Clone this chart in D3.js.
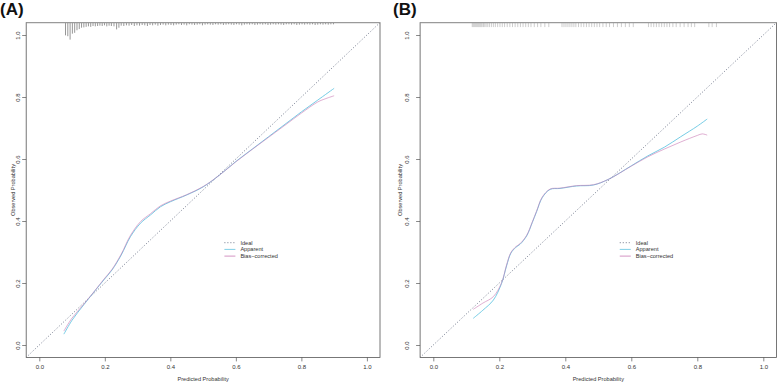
<!DOCTYPE html>
<html><head><meta charset="utf-8">
<script src="https://cdn.jsdelivr.net/npm/d3@7"></script>
<style>body{margin:0;background:#fff}svg{display:block}text{font-family:"Liberation Sans",Arial,sans-serif}</style>
</head><body><svg id="c" width="777" height="386"></svg>
<script>
// ---------- data ----------
const ticks = [0.0, 0.2, 0.4, 0.6, 0.8, 1.0];
const tickLabels = ["0.0", "0.2", "0.4", "0.6", "0.8", "1.0"];
const legendLabels = ["Ideal", "Apparent", "Bias\u2212corrected"];

// Panel A
const appA_x = [0.075,0.10,0.136,0.17,0.197,0.222,0.25,0.278,0.309,0.34,0.37,0.40,0.45,0.50,0.55,0.60,0.65,0.70,0.75,0.80,0.85,0.90];
const appA_y = [0.035,0.08,0.13,0.175,0.21,0.242,0.29,0.349,0.393,0.42,0.446,0.462,0.484,0.51,0.548,0.592,0.632,0.672,0.712,0.752,0.79,0.828];
const bcA_x  = [0.075,0.10,0.136,0.17,0.197,0.222,0.25,0.278,0.309,0.34,0.37,0.40,0.45,0.50,0.55,0.60,0.65,0.70,0.75,0.80,0.85,0.875,0.90];
const bcA_y  = [0.045,0.087,0.132,0.176,0.212,0.244,0.293,0.353,0.398,0.424,0.449,0.464,0.485,0.511,0.548,0.591,0.631,0.670,0.709,0.748,0.784,0.795,0.804];
const rugA_x = [0.080,0.087,0.094,0.101,0.108,0.115,0.122,0.129,0.136,0.143,0.150,0.157,0.164,0.171,0.178,0.185,0.192,0.199,0.206,0.213,0.220,0.228,0.236,0.243,0.250,0.258,0.266,0.274,0.282,0.290,0.298,0.306,0.314,0.322,0.330,0.338,0.346,0.354,0.362,0.370,0.378,0.386,0.394,0.402,0.410,0.418,0.426,0.434,0.442,0.450,0.458,0.466,0.474,0.482,0.490,0.498,0.506,0.514,0.522,0.530,0.538,0.546,0.554,0.562,0.570,0.578,0.586,0.594,0.602,0.610,0.618,0.626,0.634,0.642,0.650,0.658,0.666,0.674,0.682,0.690,0.698,0.706,0.714,0.722,0.730,0.738,0.746,0.754,0.762,0.770,0.778,0.786,0.794,0.802,0.810,0.818,0.826,0.834,0.842,0.850,0.858,0.866,0.874,0.882,0.890,0.898];
const rugA_f = [0.75,0.8,1.0,0.65,0.6,0.45,0.38,0.3,0.28,0.25,0.22,0.25,0.2,0.22,0.2,0.18,0.2,0.16,0.22,0.18,0.2,0.22,0.4,0.3,0.18,0.2,0.16,0.18,0.14,0.2,0.16,0.18,0.14,0.16,0.2,0.14,0.16,0.12,0.18,0.14,0.12,0.16,0.12,0.14,0.16,0.12,0.1,0.14,0.12,0.16,0.1,0.12,0.14,0.12,0.1,0.16,0.12,0.1,0.12,0.14,0.1,0.12,0.1,0.14,0.12,0.1,0.12,0.14,0.1,0.12,0.16,0.12,0.1,0.12,0.1,0.14,0.12,0.1,0.12,0.1,0.14,0.12,0.1,0.12,0.1,0.12,0.14,0.1,0.1,0.12,0.1,0.14,0.12,0.1,0.12,0.1,0.12,0.1,0.14,0.12,0.1,0.12,0.1,0.12,0.1,0.1];

// Panel B
const appB_x = [0.121,0.15,0.182,0.207,0.222,0.235,0.25,0.263,0.283,0.30,0.313,0.33,0.354,0.384,0.434,0.485,0.53,0.60,0.65,0.70,0.75,0.80,0.83];
const appB_y = [0.086,0.112,0.145,0.199,0.255,0.296,0.315,0.325,0.352,0.395,0.43,0.475,0.502,0.505,0.513,0.516,0.534,0.578,0.61,0.638,0.672,0.706,0.729];
const bcB_x  = [0.121,0.15,0.182,0.207,0.222,0.235,0.25,0.263,0.283,0.30,0.313,0.33,0.354,0.384,0.434,0.485,0.53,0.60,0.65,0.70,0.75,0.80,0.815,0.83];
const bcB_y  = [0.115,0.135,0.156,0.201,0.258,0.298,0.317,0.327,0.354,0.397,0.432,0.477,0.503,0.506,0.514,0.517,0.534,0.577,0.607,0.632,0.655,0.676,0.681,0.677];
const rugB_x = [0.118,0.121,0.124,0.127,0.130,0.133,0.136,0.139,0.142,0.145,0.148,0.152,0.156,0.160,0.165,0.170,0.176,0.182,0.188,0.195,0.202,0.209,0.216,0.224,0.232,0.240,0.248,0.256,0.264,0.272,0.280,0.288,0.296,0.306,0.316,0.326,0.338,0.350,0.390,0.396,0.402,0.408,0.414,0.420,0.426,0.432,0.440,0.448,0.456,0.464,0.472,0.480,0.488,0.496,0.504,0.514,0.524,0.534,0.546,0.558,0.570,0.582,0.594,0.606,0.652,0.660,0.668,0.676,0.684,0.692,0.700,0.708,0.716,0.726,0.736,0.748,0.760,0.772,0.782,0.792,0.835,0.845,0.858];

const panels = [
  {label:"(A)", x0:39.3, x1:366.9, app:[appA_x,appA_y], bc:[bcA_x,bcA_y], rugX:rugA_x, rugF:rugA_f, rugColor:"#6a6a6a", lx:0, yTickGap:4, yTitleX:13},
  {label:"(B)", x0:433.3, x1:763.3, app:[appB_x,appB_y], bc:[bcB_x,bcB_y], rugX:rugB_x, rugF:null, rugColor:"#b8b8b8", lx:393, yTickGap:9, yTitleX:400}
];

const svg = d3.select("#c");
const colApp = "#5ec3e0", colBc = "#c97ab4", colIdeal = "#4f5870", frameCol = "#555";

panels.forEach(p => {
  const x = d3.scaleLinear().domain([0,1]).range([p.x0, p.x1]);
  const y = d3.scaleLinear().domain([0,1]).range([345, 35]);
  const g = svg.append("g");
  const L = x(-0.04), R = x(1.04), T = y(1.04), B = y(-0.04);

  const cid = "clip" + p.label.replace(/\W/g,"");
  svg.append("clipPath").attr("id", cid).append("rect").attr("x",L).attr("y",T).attr("width",R-L).attr("height",B-T);

  g.append("line").attr("clip-path",`url(#${cid})`)
    .attr("x1",x(-0.04)).attr("y1",y(-0.04)).attr("x2",x(1.04)).attr("y2",y(1.04))
    .attr("stroke",colIdeal).attr("stroke-width",0.8).attr("stroke-dasharray","1,2");

  const line = d3.line().x(d=>x(d[0])).y(d=>y(d[1])).curve(d3.curveCatmullRom.alpha(0.5));
  const zip = a => a[0].map((v,i)=>[v,a[1][i]]);
  g.append("path").attr("d", line(zip(p.app))).attr("fill","none").attr("stroke",colApp).attr("stroke-width",1).attr("stroke-opacity",0.85);
  g.append("path").attr("d", line(zip(p.bc))).attr("fill","none").attr("stroke",colBc).attr("stroke-width",1).attr("stroke-opacity",0.6);

  const rugLen = d3.scaleLinear().domain([0,1]).range([0,17]);
  g.selectAll(null).data(p.rugX).join("line")
    .attr("x1",d=>x(d)).attr("x2",d=>x(d)).attr("y1",T)
    .attr("y2",(d,i)=> T + (p.rugF ? rugLen(p.rugF[i]) : 4.5))
    .attr("stroke",p.rugColor).attr("stroke-width",0.7);

  g.append("rect").attr("x",L).attr("y",T).attr("width",R-L).attr("height",B-T)
    .attr("fill","none").attr("stroke",frameCol).attr("stroke-width",0.8);
  g.append("line").attr("x1",L).attr("x2",R).attr("y1",T).attr("y2",T).attr("stroke","#9a9a9a").attr("stroke-width",1.4);

  const xa = g.append("g").attr("transform",`translate(0,${B})`)
    .call(d3.axisBottom(x).tickValues(ticks).tickFormat((d,i)=>tickLabels[i]).tickSize(4).tickPadding(3));
  xa.select(".domain").remove();
  xa.selectAll("line").attr("stroke",frameCol).attr("stroke-width",0.7);
  xa.selectAll("text").attr("font-size",6).attr("fill","#333").attr("font-family",'"Liberation Sans",Arial,sans-serif');

  const ya = g.append("g").attr("transform",`translate(${L},0)`)
    .call(d3.axisLeft(y).tickValues(ticks).tickFormat((d,i)=>tickLabels[i]).tickSize(4).tickPadding(p.yTickGap));
  ya.select(".domain").remove();
  ya.selectAll("line").attr("stroke",frameCol).attr("stroke-width",0.7);
  const lxp = -4 - p.yTickGap + 2;
  ya.selectAll("text").attr("font-size",6).attr("fill","#333").attr("font-family",'"Liberation Sans",Arial,sans-serif')
    .attr("text-anchor","middle").attr("dy","0").attr("x", lxp).attr("y", 0)
    .attr("transform", `rotate(-90 ${lxp} 0)`);

  g.append("text").attr("x",x(0.5)).attr("y",381).attr("text-anchor","middle").attr("font-size",5.6).attr("fill","#333").text("Predicted Probability");
  g.append("text").attr("transform",`translate(${p.yTitleX},${y(0.5)}) rotate(-90)`).attr("dy","0.35em").attr("text-anchor","middle").attr("font-size",5.6).attr("fill","#333").text("Observed Probability");

  svg.append("text").attr("x",p.lx).attr("y",15).attr("font-size",17).attr("font-weight","bold").attr("fill","#111").text(p.label);

  const lg = g.append("g").attr("transform",`translate(${x(0.565)},${y(0.33)})`);
  const sty = [{c:colIdeal,d:"1,2"},{c:colApp,d:null},{c:colBc,d:null}];
  legendLabels.forEach((t,i)=>{
    const r = lg.append("g").attr("transform",`translate(0,${i*6.7})`);
    r.append("line").attr("x1",0).attr("x2",11).attr("stroke",sty[i].c).attr("stroke-width",0.8).attr("stroke-dasharray",sty[i].d);
    r.append("text").attr("x",16).attr("dy","0.35em").attr("font-size",5.6).attr("fill","#333").text(t);
  });
});
</script></body></html>
